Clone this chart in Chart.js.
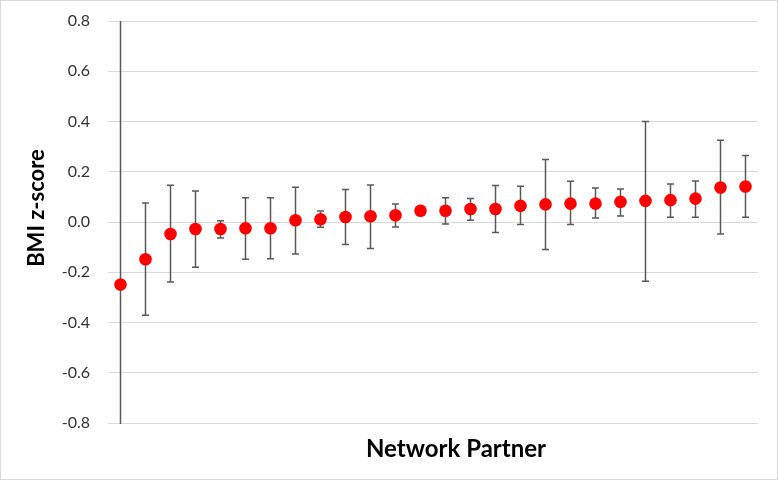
<!DOCTYPE html>
<html>
<head>
<meta charset="utf-8">
<script src="https://cdn.jsdelivr.net/npm/chart.js@4/dist/chart.umd.min.js"></script>
<style>
  html, body { margin: 0; padding: 0; background: #fff; }
  #wrap { width: 778px; height: 480px; position: relative; }
</style>
</head>
<body>
<div id="wrap"><canvas id="chart" width="778" height="480"></canvas></div>
<script>
// one category per network partner
const partners = ['1','2','3','4','5','6','7','8','9','10','11','12','13',
  '14','15','16','17','18','19','20','21','22','23','24','25','26'];

// mean BMI z-score per partner
const zScores = [-0.249, -0.148, -0.048, -0.028, -0.028, -0.025, -0.025, 0.007, 0.011, 0.020,
  0.023, 0.027, 0.045, 0.045, 0.052, 0.052, 0.064, 0.070, 0.073, 0.073,
  0.080, 0.084, 0.087, 0.093, 0.137, 0.141];

// confidence interval bounds
const upperCI = [0.95, 0.076, 0.146, 0.123, 0.005, 0.097, 0.097, 0.138, 0.044, 0.129,
  0.147, 0.072, 0.052, 0.097, 0.094, 0.145, 0.142, 0.249, 0.162, 0.135,
  0.131, 0.400, 0.151, 0.163, 0.325, 0.265];
const lowerCI = [-1.45, -0.371, -0.239, -0.180, -0.064, -0.148, -0.146, -0.127, -0.021, -0.090,
  -0.105, -0.020, 0.038, -0.008, 0.007, -0.042, -0.010, -0.109, -0.010, 0.016,
  0.024, -0.236, 0.019, 0.019, -0.048, 0.019];

const yTicks = [-0.8, -0.6, -0.4, -0.2, 0.0, 0.2, 0.4, 0.6, 0.8];

const xTitle = 'Network Partner';
const yTitle = 'BMI z-score';

// error bars drawn under the markers
const errorBars = {
  id: 'errorBars',
  beforeDatasetsDraw(chart) {
    const { ctx, chartArea, scales } = chart;
    ctx.save();
    ctx.beginPath();
    ctx.rect(chartArea.left, chartArea.top, chartArea.right - chartArea.left, chartArea.bottom - chartArea.top + 1);
    ctx.clip();
    ctx.strokeStyle = '#595959';
    ctx.lineWidth = 1.5;
    zScores.forEach((v, i) => {
      const x = scales.x.getPixelForValue(i);
      const yHi = scales.y.getPixelForValue(upperCI[i]);
      const yLo = scales.y.getPixelForValue(lowerCI[i]);
      ctx.beginPath();
      ctx.moveTo(x, yHi); ctx.lineTo(x, yLo);
      ctx.moveTo(x - 3.5, yHi); ctx.lineTo(x + 3.5, yHi);
      ctx.moveTo(x - 3.5, yLo); ctx.lineTo(x + 3.5, yLo);
      ctx.stroke();
    });
    ctx.restore();
  }
};

// axis titles and outer frame, Excel style
const decorations = {
  id: 'decorations',
  afterDraw(chart) {
    const { ctx, chartArea } = chart;
    ctx.save();
    ctx.fillStyle = '#000';
    ctx.textAlign = 'center';
    ctx.textBaseline = 'middle';
    ctx.font = 'bold 24px Lato';
    ctx.fillText(xTitle, (chartArea.left + chartArea.right) / 2 + 23, chartArea.bottom + 26);
    ctx.font = 'bold 22px Lato';
    ctx.translate(37, chartArea.top + 187);
    ctx.rotate(-Math.PI / 2);
    ctx.fillText(yTitle, 0, 0);
    ctx.restore();
    ctx.save();
    ctx.strokeStyle = '#d9d9d9';
    ctx.lineWidth = 1;
    ctx.strokeRect(0.5, 0.5, chart.width - 1, chart.height - 1);
    ctx.restore();
  }
};

new Chart(document.getElementById('chart'), {
  type: 'line',
  data: {
    labels: partners,
    datasets: [{
      data: zScores,
      showLine: false,
      pointRadius: 6.3,
      pointHoverRadius: 6.3,
      pointBackgroundColor: '#ff0000',
      pointBorderColor: '#ff0000',
      pointBorderWidth: 0
    }]
  },
  options: {
    responsive: false,
    animation: false,
    events: [],
    layout: { padding: { top: 21, right: 20, left: 0, bottom: 0 } },
    plugins: { legend: { display: false }, tooltip: { enabled: false } },
    scales: {
      x: {
        type: 'category',
        offset: true,
        grid: { display: false },
        border: { display: false },
        ticks: { display: false },
        afterFit(scale) { scale.height = 57; }
      },
      y: {
        min: -0.8,
        max: 0.8,
        border: { display: false },
        grid: { color: '#d9d9d9', lineWidth: 1, drawTicks: false },
        afterBuildTicks(scale) { scale.ticks = yTicks.map(v => ({ value: v })); },
        afterFit(scale) {
          scale.width = 108;
          scale.paddingTop = 0;
          scale.paddingBottom = 0;
        },
        ticks: {
          padding: 18,
          color: '#333333',
          font: { family: 'Lato', size: 16 },
          callback: v => Number(v).toFixed(1)
        }
      }
    }
  },
  plugins: [errorBars, decorations]
});
</script>
</body>
</html>
